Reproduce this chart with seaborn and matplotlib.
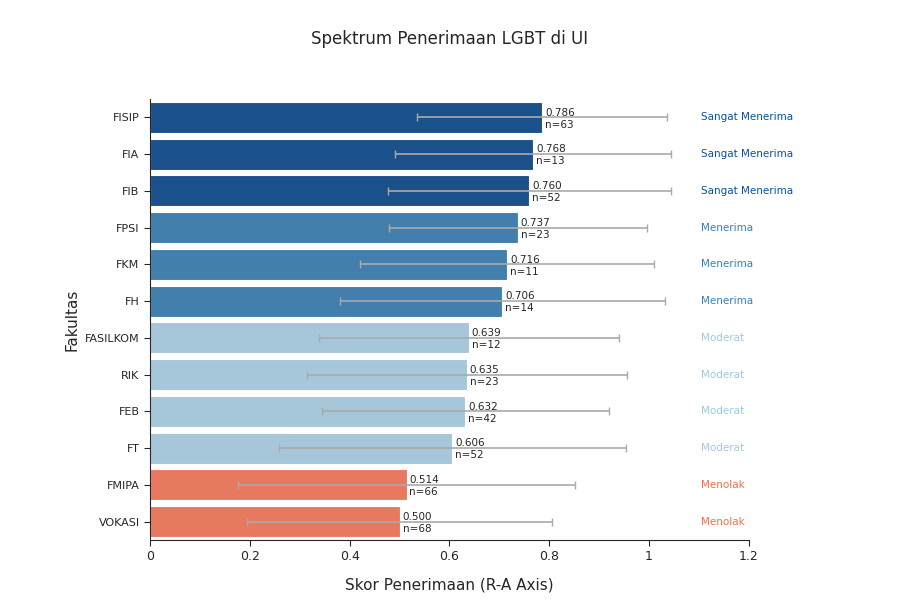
import matplotlib
matplotlib.use("Agg")
import matplotlib.pyplot as plt
import seaborn as sns
import pandas as pd

fakultas = ["FISIP", "FIA", "FIB", "FPSI", "FKM", "FH", "FASILKOM", "RIK", "FEB", "FT", "FMIPA", "VOKASI"]
skor = [0.786, 0.768, 0.760, 0.737, 0.716, 0.706, 0.639, 0.635, 0.632, 0.606, 0.514, 0.500]
std = [0.250, 0.277, 0.284, 0.258, 0.295, 0.326, 0.300, 0.320, 0.288, 0.347, 0.338, 0.306]
n = [63, 13, 52, 23, 11, 14, 12, 23, 42, 52, 66, 68]
kategori = ["Sangat Menerima"] * 3 + ["Menerima"] * 3 + ["Moderat"] * 4 + ["Menolak"] * 2

warna = {"Sangat Menerima": "#08519c", "Menerima": "#3182bd",
         "Moderat": "#9ecae1", "Menolak": "#ff6a4a"}

df = pd.DataFrame({"fak": fakultas, "skor": skor, "std": std, "n": n, "kat": kategori})

sns.set_style("white")
plt.rcParams["font.family"] = ["DejaVu Sans"]
fig, ax = plt.subplots(figsize=(9, 6), dpi=100)
fig.subplots_adjust(left=0.1667, right=0.832, top=0.835, bottom=0.1)

sns.barplot(data=df, x="skor", y="fak", hue="kat", palette=warna, dodge=False,
            width=0.85, legend=False, ax=ax, edgecolor="white", linewidth=0.8)
ax.errorbar(df["skor"], range(len(df)), xerr=df["std"], fmt="none",
            ecolor="#aaaaaa", elinewidth=1.2, capsize=3, zorder=3)

for i, r in df.iterrows():
    ax.text(r["skor"] + 0.006, i - 0.13, f"{r['skor']:.3f}", fontsize=7.5, va="center")
    ax.text(r["skor"] + 0.006, i + 0.2, f"n={r['n']}", fontsize=7.5, va="center")
    ax.text(1.105, i, r["kat"], fontsize=7.5, va="center", color=warna[r["kat"]])

ax.set_xlim(0, 1.2)
ax.set_ylim(len(df) - 0.5, -0.5)
ax.set_xticks([0, 0.2, 0.4, 0.6, 0.8, 1, 1.2])
ax.set_xticklabels(["0", "0.2", "0.4", "0.6", "0.8", "1", "1.2"])
ax.tick_params(axis="y", labelsize=8, length=4, left=True)
ax.tick_params(axis="x", labelsize=9, length=4, bottom=True)
ax.set_xlabel("Skor Penerimaan (R-A Axis)", fontsize=11, labelpad=10)
ax.set_ylabel("Fakultas", fontsize=11)
sns.despine(ax=ax)
fig.suptitle("Spektrum Penerimaan LGBT di UI", fontsize=12, y=0.95)

fig.savefig("out.png", dpi=100)
